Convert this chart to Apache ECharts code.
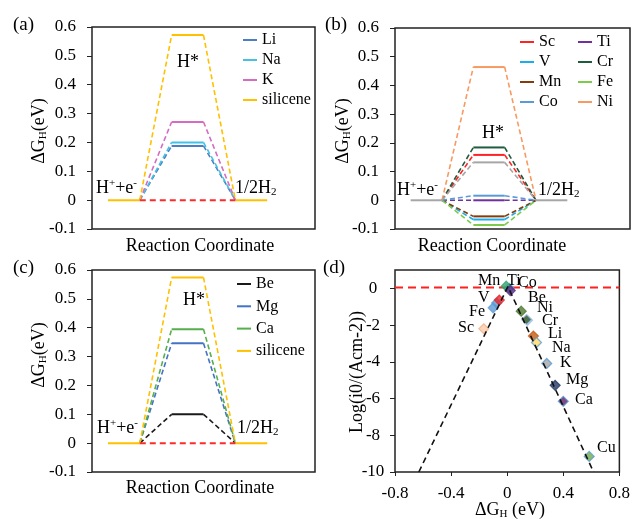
<!DOCTYPE html>
<html><head><meta charset="utf-8">
<script src="https://cdn.jsdelivr.net/npm/echarts@6/dist/echarts.min.js"></script>
<style>html,body{margin:0;padding:0;background:#fff}#c{width:633px;height:519px}</style>
</head><body><div id="c"></div>
<script>
// ---------- data ----------
const states = ['H+ + e-', 'H*', '1/2H2'];           // reaction states (positions by index)
// panel (a)
const aNames  = ['Li', 'Na', 'K', 'silicene'];
const aValues = [0.188, 0.200, 0.271, 0.572];
// panel (b)
const bNames  = ['Sc', 'Ti', 'V', 'Cr', 'Mn', 'Fe', 'Co', 'Ni', 'ref'];
const bValues = [0.158, 0.000, -0.067, 0.184, -0.056, -0.086, 0.016, 0.464, 0.132];
// panel (c)
const cNames  = ['Be', 'Mg', 'Ca', 'silicene'];
const cValues = [0.100, 0.346, 0.395, 0.574];
// panel (d) volcano points
const dNames = ['Co', 'Mn', 'Ti', 'V2', 'V', 'Fe', 'Sc', 'Be', 'Ni', 'Cr', 'Li', 'Na', 'K', 'Mg', 'Ca', 'Cu'];
const dX     = [0.015, -0.007, 0.022, -0.075, -0.056, -0.100, -0.167, 0.100, 0.145, 0.138, 0.187, 0.209, 0.282, 0.342, 0.400, 0.585];
const dY     = [0.00, 0.12, -0.12, -0.80, -0.64, -1.06, -2.20, -1.24, -1.74, -1.70, -2.60, -2.95, -4.09, -5.28, -6.15, -9.15];
const volcanoX = [-0.63, 0.005, 0.616];
const volcanoY = [-10, 0.1, -10];
const refLineY = 0.05;
const dYTicks = [-10, -8, -6, -4, -2, 0];

// ---------- styles ----------
const FF = '"Liberation Serif","Times New Roman",serif';
const aColors = ['#4A7FC1', '#45C2E2', '#D46CC4', '#FFC000'];
const bColors = ['#FF2424', '#7030A0', '#1CAEEA', '#1E5C3D', '#843C0C', '#7CCB4A', '#5B9BD5', '#F79A62', '#A6A6A6'];
const cColors = ['#1A1A1A', '#4472C4', '#56AE4C', '#FFC000'];
const dColors = ['#5B9BD5', '#2FA36B', '#5B2C83', '#5B9BD5', '#E8262B', '#5B9BD5', '#F8CBAD', '#4E7B2F', '#9DC3E6', '#385723', '#C55A11', '#FFD966', '#A5A5A5', '#203864', '#5B1F6A', '#70AD47'];
const dBorders = ['#5B9BD5', '#2FA36B', '#5B2C83', '#5B9BD5', '#E8262B', '#5B9BD5', '#F4B183', '#4E7B2F', '#9DC3E6', '#9DC3E6', '#C55A11', '#5B9BD5', '#5B9BD5', '#203864', '#5B9BD5', '#5B9BD5'];

const series = [];
function stateRange(i) { const c = 2 * i + 1; return [c - 0.5, c + 0.5]; }
function diagram(gi, names, values, colors, baseIdx, redRef) {
  const L = stateRange(0), M = stateRange(1), R = stateRange(2);
  names.forEach((n, i) => {
    const v = values[i], c = colors[i];
    const common = { type: 'line', xAxisIndex: gi, yAxisIndex: gi, name: n, symbol: 'none', silent: true,
      animation: false, itemStyle: { color: c } };
    series.push(Object.assign({}, common, { data: [[M[0], v], [M[1], v]], lineStyle: { color: c, width: 2 } }));
    series.push(Object.assign({}, common, { data: [[L[1], 0], [M[0], v]], lineStyle: { color: c, width: 1.6, type: [5, 3] } }));
    series.push(Object.assign({}, common, { data: [[M[1], v], [R[0], 0]], lineStyle: { color: c, width: 1.6, type: [5, 3] } }));
    if (i === baseIdx) {
      series.push(Object.assign({}, common, { data: [[L[0], 0], [L[1], 0]], lineStyle: { color: c, width: 2 } }));
      series.push(Object.assign({}, common, { data: [[R[0], 0], [R[1], 0]], lineStyle: { color: c, width: 2 } }));
    }
  });
  if (redRef) {
    series.push({ type: 'line', xAxisIndex: gi, yAxisIndex: gi, name: '_red', symbol: 'none', silent: true, animation: false,
      data: [[L[1], 0], [R[0], 0]], lineStyle: { color: '#FF2A2A', width: 2, type: [6, 4] } });
  }
}
diagram(0, aNames, aValues, aColors, 3, true);
diagram(1, bNames, bValues, bColors, 8, false);
diagram(2, cNames, cValues, cColors, 3, true);

// panel d
series.push({ type: 'line', xAxisIndex: 3, yAxisIndex: 3, name: '_ref', symbol: 'none', silent: true, animation: false,
  data: [[-0.8, refLineY], [0.8, refLineY]], lineStyle: { color: '#FF2020', width: 2, type: [8, 5] }, z: 3 });
series.push({ type: 'scatter', xAxisIndex: 3, yAxisIndex: 3, name: '_pts', symbol: 'diamond', symbolSize: 10, animation: false, z: 4,
  data: dNames.map((n, i) => ({ name: n, value: [dX[i], dY[i]], itemStyle: { color: dColors[i], borderColor: dBorders[i], borderWidth: 1.2 } })) });
series.push({ type: 'line', xAxisIndex: 3, yAxisIndex: 3, name: '_volcano', symbol: 'none', silent: true, animation: false, z: 5,
  data: volcanoX.map((x, i) => [x, volcanoY[i]]), lineStyle: { color: '#111', width: 1.6, type: [6, 4] } });

// ---------- axes ----------
const gridBase = { show: true, borderColor: '#222', borderWidth: 1.5, backgroundColor: 'transparent', containLabel: false };
const grids = [
  Object.assign({ left: 92, top: 27, width: 223, height: 202 }, gridBase),
  Object.assign({ left: 395, top: 28, width: 235, height: 201 }, gridBase),
  Object.assign({ left: 92, top: 270, width: 223, height: 202 }, gridBase),
  Object.assign({ left: 395, top: 270, width: 225, height: 202 }, gridBase)
];
const lbl = { fontFamily: FF, fontSize: 17, color: '#000' };
const noLine = { show: false, onZero: false };
function xHidden(gi, max) {
  return { type: 'value', gridIndex: gi, min: 0, max: max, position: 'bottom', axisLine: noLine, axisTick: { show: false },
    axisLabel: { show: false }, splitLine: { show: false } };
}
function yEnergy(gi) {
  return { type: 'value', gridIndex: gi, min: -0.1, max: 0.6, interval: 0.1, position: 'left',
    axisLine: noLine, axisTick: { show: true, inside: false, length: 5, lineStyle: { color: '#222' } },
    axisLabel: Object.assign({ margin: 16 }, lbl), splitLine: { show: false } };
}
const xAxes = [xHidden(0, 7), xHidden(1, 7.5), xHidden(2, 7),
  { type: 'value', gridIndex: 3, min: -0.8, max: 0.8, interval: 0.4, position: 'bottom', axisLine: noLine,
    axisTick: { show: true, length: 4, lineStyle: { color: '#222' } },
    axisLabel: Object.assign({ margin: 13 }, lbl), splitLine: { show: false } }];
const yAxes = [yEnergy(0), yEnergy(1), yEnergy(2),
  { type: 'value', gridIndex: 3, min: -10, max: 1, position: 'left',
    axisLine: noLine, axisTick: { show: true, length: 5, customValues: dYTicks, lineStyle: { color: '#222' } },
    axisLabel: Object.assign({ margin: 22, align: 'center', customValues: dYTicks }, lbl),
    splitLine: { show: false } }];

// ---------- legends ----------
const legBase = { orient: 'vertical', icon: 'rect', itemWidth: 14, itemHeight: 2, selectedMode: false, padding: 0,
  textStyle: { fontFamily: FF, fontSize: 16, color: '#000', lineHeight: 16 } };
const legends = [
  Object.assign({}, legBase, { data: aNames, left: 243, top: 32, itemGap: 4 }),
  Object.assign({}, legBase, { data: ['Sc', 'V', 'Mn', 'Co'], left: 520, top: 34, itemGap: 4 }),
  Object.assign({}, legBase, { data: ['Ti', 'Cr', 'Fe', 'Ni'], left: 578, top: 34, itemGap: 4 }),
  Object.assign({}, legBase, { data: cNames, left: 237, top: 276, itemGap: 6.3 })
];

// ---------- text ----------
const rich = {
  sup: { fontSize: 11, fontFamily: FF, verticalAlign: 'top', lineHeight: 12, fill: '#000' },
  sub: { fontSize: 11, fontFamily: FF, verticalAlign: 'bottom', lineHeight: 12, fill: '#000' }
};
function T(x, y, text, size, align, rot) {
  return { type: 'text', x: x, y: y, rotation: rot || 0, silent: true, z: 100,
    style: { text: text, fontFamily: FF, fontSize: size, fill: '#000', align: align || 'left', verticalAlign: 'middle',
      lineHeight: size + 2, rich: rich } };
}
const graphics = [
  T(13, 25, '(a)', 19), T(325, 25, '(b)', 19), T(13, 268, '(c)', 19), T(323, 268, '(d)', 19),
  // panel a
  T(188, 62, 'H*', 18, 'center'), T(96, 188, 'H{sup|+}+e{sup|-}', 18), T(235, 188, '1/2H{sub|2}', 18),
  T(200, 246, 'Reaction Coordinate', 18, 'center'), T(39, 131, 'ΔG{sub|H}(eV)', 18, 'center', Math.PI / 2),
  // panel b
  T(493, 133, 'H*', 18, 'center'), T(397, 190, 'H{sup|+}+e{sup|-}', 18), T(538, 190, '1/2H{sub|2}', 18),
  T(492, 246, 'Reaction Coordinate', 18, 'center'), T(343, 131, 'ΔG{sub|H}(eV)', 18, 'center', Math.PI / 2),
  // panel c
  T(194, 300, 'H*', 18, 'center'), T(97, 428, 'H{sup|+}+e{sup|-}', 18), T(237, 428, '1/2H{sub|2}', 18),
  T(200, 488, 'Reaction Coordinate', 18, 'center'), T(39, 355, 'ΔG{sub|H}(eV)', 18, 'center', Math.PI / 2),
  // panel d
  T(510, 510, 'ΔG{sub|H} (eV)', 18, 'center'), T(357, 372, 'Log(i0/(Acm-2))', 18, 'center', Math.PI / 2),
  T(478, 281, 'Mn', 16), T(507, 281, 'Ti', 16), T(518, 283, 'Co', 16),
  T(478, 298, 'V', 16), T(469, 312, 'Fe', 16), T(458, 328, 'Sc', 16),
  T(528, 298, 'Be', 16), T(537, 308, 'Ni', 16), T(542, 321, 'Cr', 16), T(548, 334, 'Li', 16),
  T(552, 348, 'Na', 16), T(560, 363, 'K', 16), T(566, 380, 'Mg', 16), T(575, 400, 'Ca', 16), T(597, 448, 'Cu', 16)
];

const chart = echarts.init(document.getElementById('c'));
chart.setOption({
  backgroundColor: '#fff',
  animation: false,
  textStyle: { fontFamily: FF },
  grid: grids, xAxis: xAxes, yAxis: yAxes, legend: legends, series: series, graphic: graphics
});
</script></body></html>
